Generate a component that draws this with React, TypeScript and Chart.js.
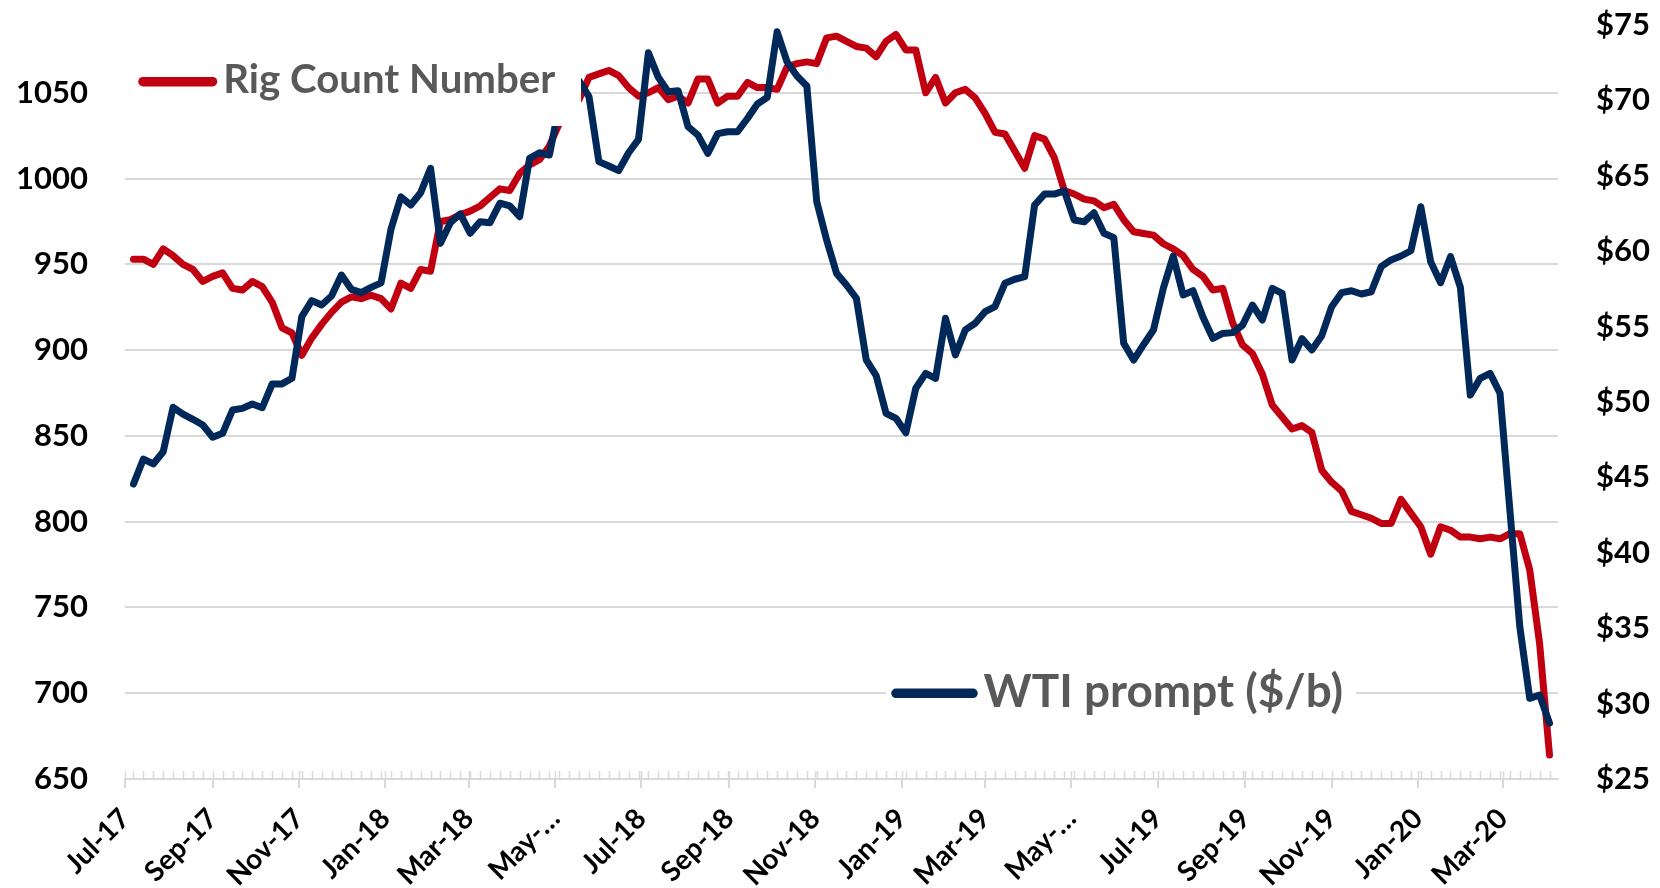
import React, { useEffect, useRef } from "react";
import { Chart, registerables } from "chart.js";

Chart.register(...registerables);

// ---------- data ----------
const AXIS_START = "2017-07-01";
const AXIS_END = "2020-04-09";
const FIRST_WEEK = "2017-07-07"; // weekly observations (Fridays)

const MONTH_TICKS = [
  "2017-07-01", "2017-09-01", "2017-11-01", "2018-01-01", "2018-03-01", "2018-05-01",
  "2018-07-01", "2018-09-01", "2018-11-01", "2019-01-01", "2019-03-01", "2019-05-01",
  "2019-07-01", "2019-09-01", "2019-11-01", "2020-01-01", "2020-03-01",
];
const MONTH_LABELS = [
  "Jul-17", "Sep-17", "Nov-17", "Jan-18", "Mar-18", "May-…",
  "Jul-18", "Sep-18", "Nov-18", "Jan-19", "Mar-19", "May-…",
  "Jul-19", "Sep-19", "Nov-19", "Jan-20", "Mar-20",
];

const RIG_COUNT = [
  953, 953, 950, 959, 955, 950, 947, 940, 943, 945,
  936, 935, 940, 937, 928, 913, 910, 897, 907, 915,
  922, 928, 931, 930, 932, 930, 924, 939, 936, 947,
  946, 975, 976, 979, 981, 984, 989, 994, 993, 1003,
  1008, 1011, 1019, 1032, 1045, 1046, 1059, 1061, 1063, 1060,
  1053, 1048, 1050, 1053, 1046, 1048, 1044, 1058, 1058, 1044,
  1048, 1048, 1056, 1053, 1053, 1052, 1065, 1067, 1068, 1067,
  1082, 1083, 1080, 1077, 1076, 1071, 1080, 1084, 1075, 1075,
  1050, 1059, 1044, 1050, 1052, 1047, 1038, 1027, 1026, 1016,
  1006, 1025, 1023, 1012, 993, 991, 988, 987, 983, 985,
  976, 969, 968, 967, 962, 959, 955, 947, 943, 935,
  936, 916, 903, 898, 886, 868, 861, 854, 856, 852,
  830, 823, 818, 806, 804, 802, 799, 799, 813, 805,
  797, 781, 797, 795, 791, 791, 790, 791, 790, 793,
  793, 772, 729, 664,
];

const WTI_PRICE = [
  44.56, 46.22, 45.89, 46.7, 49.65, 49.2, 48.85, 48.47, 47.66, 47.92,
  49.47, 49.58, 49.87, 49.62, 51.19, 51.2, 51.57, 55.66, 56.72, 56.43,
  57.03, 58.42, 57.47, 57.25, 57.6, 57.9, 61.45, 63.6, 63.06, 63.88,
  65.5, 60.52, 61.89, 62.47, 61.19, 61.95, 61.89, 63.18, 63.0, 62.29,
  66.16, 66.53, 66.38, 69.7, 70.7, 71.3, 70.25, 65.94, 65.65, 65.34,
  66.53, 67.42, 73.16, 71.53, 70.58, 70.64, 68.26, 67.7, 66.49, 67.8,
  67.92, 67.92, 68.8, 69.76, 70.2, 74.55, 72.56, 71.62, 70.95, 63.28,
  60.74, 58.53, 57.76, 56.88, 52.79, 51.75, 49.25, 48.92, 47.96, 50.91,
  51.9, 51.57, 55.55, 53.12, 54.78, 55.22, 55.99, 56.32, 57.87, 58.14,
  58.31, 63.06, 63.79, 63.79, 64.0, 62.07, 61.95, 62.55, 61.19, 60.9,
  53.89, 52.78, 53.8, 54.77, 57.54, 59.68, 57.1, 57.38, 55.64, 54.22,
  54.55, 54.6, 55.1, 56.43, 55.44, 57.54, 57.2, 52.78, 54.2, 53.45,
  54.4, 56.32, 57.25, 57.38, 57.16, 57.31, 58.97, 59.42, 59.68, 60.03,
  62.95, 59.3, 57.91, 59.64, 57.6, 50.46, 51.57, 51.9, 50.58, 42.8,
  35.1, 30.35, 30.57, 28.7,
];

const RIG_TICKS = [650, 700, 750, 800, 850, 900, 950, 1000, 1050];
const RIG_MIN = 650;
const RIG_MAX = 1089.5;
const WTI_MIN = 25;
const WTI_MAX = 75;
const WTI_STEP = 5;

const RIG_LABEL = "Rig Count Number";
const WTI_LABEL = "WTI prompt ($/b)";

// ---------- styles ----------
const RED = "#C00010";
const BLUE = "#00295A";
const GRID = "#D9D9D9";
const LEGEND_TEXT = "#595959";
const FONT = "Lato, 'Liberation Sans', sans-serif";

const DAY_MS = 86400000;
const toDays = (iso: string) => (Date.parse(iso) - Date.parse(AXIS_START)) / DAY_MS;
const firstWeekDay = toDays(FIRST_WEEK);
const weekDays = RIG_COUNT.map((_, i) => firstWeekDay + 7 * i);

const LEGEND_LAYOUT = [
  { text: RIG_LABEL, color: RED, box: [125, 37, 581, 126], line: [143, 212.5, 81.7], textX: 223.3, baseline: 93.3, width: 332 },
  { text: WTI_LABEL, color: BLUE, box: [886, 648, 1356, 738], line: [896, 973, 693.3], textX: 983.5, baseline: 706.7, width: 359.5 },
];

const minorTicksPlugin = {
  id: "minorTicks",
  afterDraw(chart: any) {
    const { ctx, chartArea, scales } = chart;
    const xs = scales.x;
    ctx.save();
    ctx.strokeStyle = GRID;
    ctx.lineWidth = 1.5;
    ctx.beginPath();
    const all = [...weekDays, ...MONTH_TICKS.map(toDays)];
    for (const d of all) {
      const px = Math.round(xs.getPixelForValue(d)) + 0.5;
      ctx.moveTo(px, chartArea.bottom);
      ctx.lineTo(px, chartArea.bottom - 8);
    }
    ctx.stroke();
    ctx.restore();
  },
};

const legendPlugin = {
  id: "boxLegend",
  afterDatasetsDraw(chart: any) {
    const { ctx } = chart;
    ctx.save();
    for (const item of LEGEND_LAYOUT) {
      const [x0, y0, x1, y1] = item.box;
      ctx.fillStyle = "#FFFFFF";
      ctx.fillRect(x0, y0, x1 - x0, y1 - y0);
      ctx.strokeStyle = item.color;
      ctx.lineWidth = 9.5;
      ctx.lineCap = "round";
      ctx.beginPath();
      ctx.moveTo(item.line[0], item.line[2]);
      ctx.lineTo(item.line[1], item.line[2]);
      ctx.stroke();
      ctx.font = `bold 40px ${FONT}`;
      const w = ctx.measureText(item.text).width;
      const size = (40 * item.width) / w;
      ctx.font = `bold ${size}px ${FONT}`;
      ctx.fillStyle = LEGEND_TEXT;
      ctx.textBaseline = "alphabetic";
      ctx.textAlign = "left";
      ctx.fillText(item.text, item.textX, item.baseline);
    }
    ctx.restore();
  },
};

export default function App() {
  const canvasRef = useRef<HTMLCanvasElement | null>(null);

  useEffect(() => {
    const canvas = canvasRef.current;
    if (!canvas) return;
    const lineCommon = {
      pointRadius: 0,
      pointHoverRadius: 0,
      borderWidth: 7,
      tension: 0,
      borderJoinStyle: "round" as const,
      borderCapStyle: "round" as const,
      fill: false,
    };
    const chart = new Chart(canvas, {
      type: "line",
      data: {
        datasets: [
          {
            ...lineCommon,
            label: RIG_LABEL,
            data: RIG_COUNT.map((v, i) => ({ x: weekDays[i], y: v })),
            borderColor: RED,
            backgroundColor: RED,
            yAxisID: "yRig",
            order: 2,
          },
          {
            ...lineCommon,
            label: WTI_LABEL,
            data: WTI_PRICE.map((v, i) => ({ x: weekDays[i], y: v })),
            borderColor: BLUE,
            backgroundColor: BLUE,
            yAxisID: "yWti",
            order: 1,
          },
        ],
      },
      options: {
        responsive: false,
        animation: false,
        events: [],
        layout: { padding: { top: 25, left: 0, right: 0, bottom: 0 } },
        plugins: {
          legend: { display: false },
          tooltip: { enabled: false },
          title: { display: false },
        },
        scales: {
          x: {
            type: "linear",
            min: 0,
            max: toDays(AXIS_END),
            afterBuildTicks: (s: any) => {
              s.ticks = MONTH_TICKS.map((d) => ({ value: toDays(d) }));
            },
            afterFit: (s: any) => {
              s.height = 109;
            },
            ticks: {
              autoSkip: false,
              minRotation: 45,
              maxRotation: 45,
              padding: 14,
              color: "#000000",
              font: { family: FONT, size: 28, weight: "bold" },
              callback: (_v: any, i: number) => MONTH_LABELS[i],
            },
            grid: {
              drawOnChartArea: false,
              drawTicks: true,
              tickLength: 9,
              color: GRID,
              lineWidth: 2,
            },
            border: { display: true, color: GRID, width: 2 },
          },
          yRig: {
            type: "linear",
            position: "left",
            min: RIG_MIN,
            max: RIG_MAX,
            afterBuildTicks: (s: any) => {
              s.ticks = RIG_TICKS.map((v) => ({ value: v }));
            },
            afterFit: (s: any) => {
              s.width = 125;
            },
            ticks: {
              padding: 2,
              color: "#000000",
              font: { family: FONT, size: 31, weight: "bold" },
              callback: (v: any) => String(v),
            },
            grid: { color: GRID, lineWidth: 2, drawTicks: true, tickLength: 35, tickColor: "rgba(0,0,0,0)" },
            border: { display: false },
          },
          yWti: {
            type: "linear",
            position: "right",
            min: WTI_MIN,
            max: WTI_MAX,
            afterFit: (s: any) => {
              s.width = 102;
            },
            ticks: {
              stepSize: WTI_STEP,
              padding: 2,
              color: "#000000",
              font: { family: FONT, size: 31, weight: "bold" },
              callback: (v: any) => "$" + v,
            },
            grid: { display: true, drawOnChartArea: false, drawTicks: true, tickLength: 36, tickColor: "rgba(0,0,0,0)", color: "rgba(0,0,0,0)" },
            border: { display: false },
          },
        },
      },
      plugins: [minorTicksPlugin, legendPlugin],
    });
    return () => chart.destroy();
  }, []);

  return (
    <div style={{ position: "fixed", left: 0, top: 0, width: 1660, height: 888, background: "#FFFFFF" }}>
      <canvas ref={canvasRef} width={1660} height={888} style={{ display: "block" }} />
    </div>
  );
}
